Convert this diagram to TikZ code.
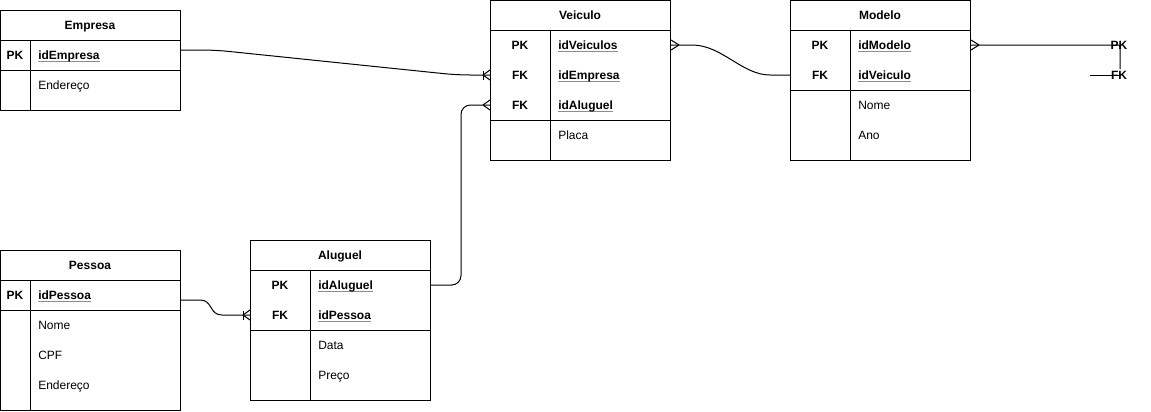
\documentclass[tikz,border=0pt]{standalone}
\usepackage{fontspec}
\setmainfont{Liberation Sans}
\usetikzlibrary{calc}
\newcommand{\kul}[1]{\setbox0\hbox{#1}\rlap{\color{black!45}\rule[-2.3pt]{\wd0}{0.8pt}}\box0}
\tikzset{
  tbl/.style={draw=black, line width=0.75pt, fill=white, inner sep=0pt, anchor=north west},
  tline/.style={draw=black, line width=0.75pt},
  conn/.style={draw=black, line width=0.75pt},
  txt/.style={inner sep=0pt, text height=6.5pt, text depth=0pt, font=\fontsize{9}{10.8}\selectfont},
  hdr/.style={txt, font=\fontsize{9}{10.8}\selectfont\bfseries},
  keyc/.style={txt, font=\fontsize{9}{10.8}\selectfont\bfseries},
  keyn/.style={txt, anchor=west, font=\fontsize{9}{10.8}\selectfont\bfseries},
  attr/.style={txt, anchor=west},
  manyW/.pic={\draw[conn] (-7,0) -- (0,-5) (-7,0) -- (0,5);},
  manyE/.pic={\draw[conn] (8,0) -- (0,-5) (8,0) -- (0,5);},
  barW/.pic={\draw[conn] (-7,-4.5) -- (-7,4.5);}
}
\begin{document}
\begin{tikzpicture}[x=0.75pt,y=-0.75pt]
\useasboundingbox (0,0) rectangle (1151,411);

% ---------- Empresa ----------
\node[tbl, minimum width=135pt, minimum height=75pt] (empr) at (0,10) {};
\draw[tline] (0,40) -- (180,40) (0,70) -- (180,70) (30,40) -- (30,110);
\node[hdr] (em-h) at (90,25) {Empresa};
\node[keyc] (em-pk) at (15,55) {PK};
\node[keyn] (em-id) at (38,55) {\kul{idEmpresa}};
\node[attr] (em-end) at (38,85) {Endereço};

% ---------- Veiculo ----------
\node[tbl, minimum width=135pt, minimum height=120pt] (veic) at (490,0) {};
\draw[tline] (490,30) -- (670,30) (490,120) -- (670,120) (550,30) -- (550,160);
\node[hdr] (ve-h) at (580,15) {Veiculo};
\node[keyc] (ve-pk) at (520,45) {PK};
\node[keyc] (ve-emp) at (520,75) {FK};
\node[keyc] (ve-alu) at (520,105) {FK};
\node[keyn] (ve-id) at (558,45) {\kul{idVeiculos}};
\node[keyn] (ve-ide) at (558,75) {\kul{idEmpresa}};
\node[keyn] (ve-ida) at (558,105) {\kul{idAluguel}};
\node[attr] (ve-pl) at (558,135) {Placa};

% ---------- Modelo ----------
\node[tbl, minimum width=135pt, minimum height=120pt] (mode) at (790,0) {};
\draw[tline] (790,30) -- (970,30) (790,90) -- (970,90) (850,30) -- (850,160);
\node[hdr] (mo-h) at (880,15) {Modelo};
\node[keyc] (mo-pk) at (820,45) {PK};
\node[keyc] (mo-fk) at (820,75) {FK};
\node[keyn] (mo-id) at (858,45) {\kul{idModelo}};
\node[keyn] (mo-idv) at (858,75) {\kul{idVeiculo}};
\node[attr] (mo-no) at (858,105) {Nome};
\node[attr] (mo-an) at (858,135) {Ano};

% ---------- Pessoa ----------
\node[tbl, minimum width=135pt, minimum height=120pt] (pess) at (0,250) {};
\draw[tline] (0,280) -- (180,280) (0,310) -- (180,310) (30,280) -- (30,410);
\node[hdr] (pe-h) at (90,265) {Pessoa};
\node[keyc] (pe-pk) at (15,295) {PK};
\node[keyn] (pe-id) at (38,295) {\kul{idPessoa}};
\node[attr] (pe-no) at (38,325) {Nome};
\node[attr] (pe-cpf) at (38,355) {CPF};
\node[attr] (pe-end) at (38,385) {Endereço};

% ---------- Aluguel ----------
\node[tbl, minimum width=135pt, minimum height=120pt] (alug) at (250,240) {};
\draw[tline] (250,270) -- (430,270) (250,330) -- (430,330) (310,270) -- (310,400);
\node[hdr] (al-h) at (340,255) {Aluguel};
\node[keyc] (al-pk) at (280,285) {PK};
\node[keyc] (al-fk) at (280,315) {FK};
\node[keyn] (al-id) at (318,285) {\kul{idAluguel}};
\node[keyn] (al-idp) at (318,315) {\kul{idPessoa}};
\node[attr] (al-da) at (318,345) {Data};
\node[attr] (al-pr) at (318,375) {Preço};

% ---------- connectors ----------
% Empresa -> Veiculo
\draw[conn, rounded corners=10] ($(empr.east|-em-pk)+(0,-5)$) -- (215,50) -- (457,75) -- (veic.west|-ve-emp);
\pic at (veic.west|-ve-emp) {manyW};
\pic at (veic.west|-ve-emp) {barW};

% Aluguel -> Veiculo
\draw[conn, rounded corners=7] (alug.east|-al-pk) -- (461,285) -- (461,105) -- (veic.west|-ve-alu);
\pic at (veic.west|-ve-alu) {manyW};

% Pessoa -> Aluguel
\draw[conn] ($(pess.east|-pe-pk)+(0,5)$) -- (200,300) .. controls (213,300) and (209,315) .. (222,315) -- (alug.west|-al-fk);
\pic at (alug.west|-al-fk) {manyW};
\pic at (alug.west|-al-fk) {barW};

% Veiculo -> Modelo
\draw[conn] (veic.east|-ve-pk) -- (692,45) .. controls (722,45) and (742,75) .. (770,75) -- (mode.west|-mo-fk);
\pic at (veic.east|-ve-pk) {manyE};

% Modelo -> dangling PK / FK
\node[keyc] (xpk) at (1119,45) {PK};
\node[keyc] (xfk) at (1119,75) {FK};
\coordinate (xfs) at (1090,75);
\draw[conn] (mode.east|-mo-pk) -- (1116,45) .. controls (1120,45) .. (1120,50) -- (1120,69);
\draw[conn] (xfs) -- (xfk.center);
\pic at (mode.east|-mo-pk) {manyE};
\end{tikzpicture}
\end{document}
